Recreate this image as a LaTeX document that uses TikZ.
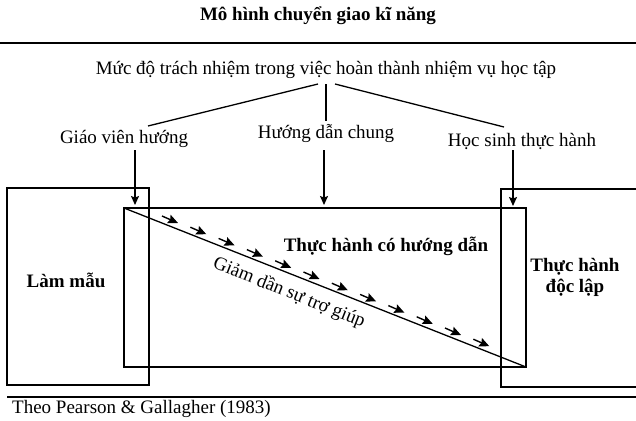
\documentclass[tikz,border=0pt]{standalone}
\usepackage{fontspec}
\setmainfont{Liberation Serif}
\usetikzlibrary{arrows.meta}
\begin{document}
\begin{tikzpicture}[x=1pt,y=-1pt,
  every node/.style={inner sep=0pt,font=\fontsize{19}{22}\selectfont},
  bold/.style={font=\fontsize{19}{21}\selectfont\bfseries},
  rule/.style={line width=1.4pt},
  box/.style={line width=1.3pt},
  conn/.style={line width=1.3pt},
  downarrow/.style={line width=1.3pt,-{Stealth[length=9pt,width=8pt,inset=1.5pt]}},
  smallarrow/.style={line width=1.4pt,-{Stealth[length=10pt,width=9pt,inset=1.5pt]}}]
\useasboundingbox (0,0) rectangle (636,420);
% title and rules
\node[bold] (title) at (318,16) {Mô hình chuyển giao kĩ năng};
\draw[rule] (0,43) -- (636,43);
\draw[rule] (7,397) -- (636,397);
% responsibility text and labels
\node (resp) at (326,70) {Mức độ trách nhiệm trong việc hoàn thành nhiệm vụ học tập};
\node (gv) at (124,139) {Giáo viên hướng};
\node (hd) at (326,133) {Hướng dẫn chung};
\node (hs) at (522,141) {Học sinh thực hành};
\coordinate (rl) at (318,84);
\coordinate (rm) at (326,84);
\coordinate (rr) at (335,84);
\coordinate (gvend) at (148,126);
\coordinate (hdend) at (326,121);
\coordinate (hsend) at (504,127);
\draw[conn] (rl) -- (gvend);
\draw[conn] (rm) -- (hdend);
\draw[conn] (rr) -- (hsend);
% boxes
\draw[box] (7,188) rectangle (149,385);
\draw[box] (124,208) rectangle (526,367);
\draw[box] (637,189) -- (501,189) -- (501,387) -- (637,387);
\coordinate (mtl) at (124,208);
\coordinate (mbr) at (526,367);
\draw[conn] (mtl) -- (mbr);
% arrows from labels
\coordinate (a1s) at (135,150); \coordinate (a1e) at (135,205);
\coordinate (a2s) at (324,150); \coordinate (a2e) at (324,205);
\coordinate (a3s) at (513,150); \coordinate (a3e) at (513,206);
\draw[downarrow] (a1s) -- (a1e);
\draw[downarrow] (a2s) -- (a2e);
\draw[downarrow] (a3s) -- (a3e);
% small arrows along diagonal
\foreach \i in {0,...,11}{
  \coordinate (s\i) at ({162+28.3*\i},{216+11.2*\i});
  \coordinate (e\i) at ({178+28.3*\i},{223+11.2*\i});
  \draw[smallarrow] (s\i) -- (e\i);
}
% texts
\node[bold] (lm) at (66,280) {Làm mẫu};
\node[bold] (thd) at (386,246) {Thực hành có hướng dẫn};
\node[bold,align=center] (thdl) at (575,277) {Thực hành\\độc lập};
\node[rotate=-21.6] (giam) at (289,293) {Giảm dần sự trợ giúp};
\node[anchor=west] (src) at (12,409) {Theo Pearson \& Gallagher (1983)};
\end{tikzpicture}
\end{document}
